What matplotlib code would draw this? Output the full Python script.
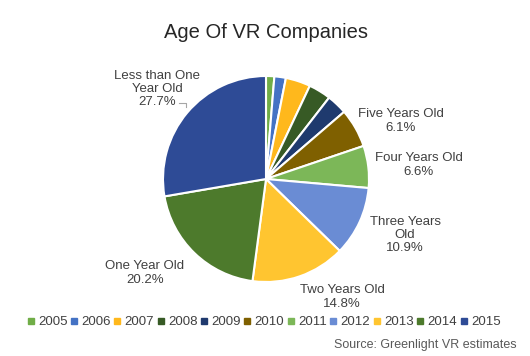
import matplotlib.pyplot as plt
from matplotlib.lines import Line2D

plt.rcParams['font.family'] = ['Liberation Sans', 'DejaVu Sans']

years = ['2005', '2006', '2007', '2008', '2009', '2010',
         '2011', '2012', '2013', '2014', '2015']
shares = [1.3, 1.8, 3.9, 3.5, 3.2, 6.1, 6.6, 10.9, 14.8, 20.2, 27.7]
colors = ['#70AD47', '#4472C4', '#FFB81C', '#375A25', '#1F3A6E', '#7F6000',
          '#7CB758', '#6A8CD4', '#FFC530', '#4D7A2C', '#2E4B96']

# labels shown on the chart (year -> text)
label_text = {
    '2015': 'Less than One\nYear Old\n27.7%',
    '2014': 'One Year Old\n20.2%',
    '2013': 'Two Years Old\n14.8%',
    '2012': 'Three Years\nOld\n10.9%',
    '2011': 'Four Years Old\n6.6%',
    '2010': 'Five Years Old\n6.1%',
}
# text centres in pixels (x, y from top)
label_pos = {
    '2015': (157, 89),
    '2014': (145, 273),
    '2013': (342, 297),
    '2012': (405, 235),
    '2011': (419, 165),
    '2010': (401, 121),
}

W, H = 530, 356
fig = plt.figure(figsize=(W / 100, H / 100), dpi=100)

cx, cy, r = 266, 179, 103
ax = fig.add_axes([(cx - r) / W, (H - cy - r) / H, 2 * r / W, 2 * r / H])
ax.pie(shares, colors=colors, startangle=90, counterclock=False,
       wedgeprops=dict(edgecolor='white', linewidth=1.5))
ax.set_xlim(-1, 1)
ax.set_ylim(-1, 1)
ax.set_aspect('equal')

fig.text(cx / W, 1 - 32 / H, 'Age Of VR Companies', ha='center', va='center',
         fontsize=14.5, color='#262626')

for y in years:
    if y in label_text:
        x0, y0 = label_pos[y]
        fig.text(x0 / W, 1 - y0 / H, label_text[y], ha='center', va='center',
                 fontsize=9.5, color='#404040', linespacing=1.15)

# leader line for the largest slice
fig.add_artist(Line2D([179 / W, 186 / W, 186 / W],
                      [1 - 103 / H, 1 - 103 / H, 1 - 107 / H],
                      color='#A6A6A6', linewidth=0.8))

handles = [Line2D([], [], marker='s', linestyle='none', markersize=4,
                  markerfacecolor=c, markeredgecolor=c) for c in colors]
fig.legend(handles, years, loc='center', ncol=len(years),
           bbox_to_anchor=(264 / W, 1 - 322 / H), frameon=False,
           fontsize=9.5, handlelength=0.5, handletextpad=0.3,
           columnspacing=0.25, borderpad=0, labelcolor='#404040')

fig.text(517 / W, 1 - 345 / H, 'Source: Greenlight VR estimates', ha='right',
         va='center', fontsize=9, color='#595959')

fig.savefig('out.png', dpi=100)
